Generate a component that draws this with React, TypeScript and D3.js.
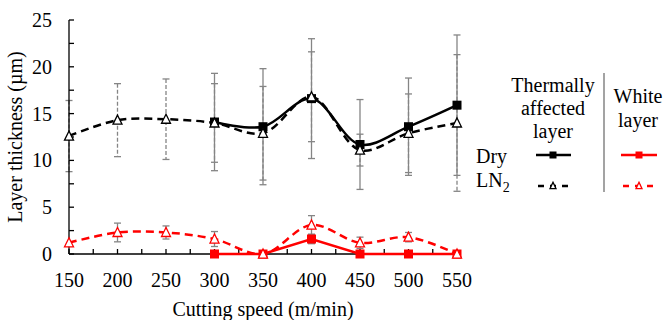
import React from "react";
import * as d3 from "d3";

const speedsAll = [150, 200, 250, 300, 350, 400, 450, 500, 550];
const speedsDry = [300, 350, 400, 450, 500, 550];

const talDry = [14.1, 13.6, 16.6, 11.7, 13.6, 15.9];
const talDryErr = [5.2, 6.2, 6.4, 4.8, 5.2, 7.5];
const talLN2 = [12.6, 14.3, 14.4, 14.0, 12.9, 16.8, 11.1, 12.9, 14.0];
const talLN2Err = [3.8, 3.9, 4.3, 4.2, 5.0, 4.8, 1.7, 4.2, 7.3];

const wlDry = [0, 0, 1.6, 0, 0, 0];
const wlDryErr = [0, 0, 0.5, 0, 0, 0];
const wlLN2 = [1.2, 2.3, 2.3, 1.6, 0, 3.1, 1.2, 1.8, 0];
const wlLN2Err = [0, 1.0, 0.7, 0.8, 0, 1.0, 0.6, 0.5, 0];

const xTicks = [150, 200, 250, 300, 350, 400, 450, 500, 550];
const yTicks = [0, 5, 10, 15, 20, 25];

const FONT = "Liberation Serif, Tinos, Times New Roman, DejaVu Serif, serif";

type Pt = { x: number; v: number; e: number };

export default function App() {
  const x = d3.scaleLinear().domain([150, 550]).range([69, 457]);
  const y = d3.scaleLinear().domain([0, 25]).range([254, 20]);

  const mk = (xs: number[], vs: number[], es: number[]): Pt[] =>
    xs.map((s, i) => ({ x: s, v: vs[i], e: es[i] }));

  const sTalDry = mk(speedsDry, talDry, talDryErr);
  const sTalLN2 = mk(speedsAll, talLN2, talLN2Err);
  const sWlDry = mk(speedsDry, wlDry, wlDryErr);
  const sWlLN2 = mk(speedsAll, wlLN2, wlLN2Err);

  const smooth = d3
    .line<Pt>()
    .x((d) => x(d.x))
    .y((d) => y(d.v))
    .curve(d3.curveCatmullRom.alpha(0.5));
  const straight = d3
    .line<Pt>()
    .x((d) => x(d.x))
    .y((d) => y(d.v));

  const gray = "#858585";
  const red = "#ff0000";

  const errBars = (pts: Pt[], dashed: boolean, key: string) =>
    pts
      .filter((p) => p.e > 0)
      .map((p, i) => {
        const cx = x(p.x);
        const y1 = y(p.v + p.e);
        const y2 = y(Math.max(0, p.v - p.e));
        return (
          <g key={key + i} stroke={gray} strokeWidth={1.3}>
            <line
              x1={cx}
              x2={cx}
              y1={y1}
              y2={y2}
              strokeDasharray={dashed ? "4,2" : undefined}
            />
            <line x1={cx - 3.5} x2={cx + 3.5} y1={y1} y2={y1} />
            <line x1={cx - 3.5} x2={cx + 3.5} y1={y2} y2={y2} />
          </g>
        );
      });

  const square = (cx: number, cy: number, s: number, fill: string, key: string) => (
    <rect key={key} x={cx - s / 2} y={cy - s / 2} width={s} height={s} fill={fill} />
  );
  const tri = (cx: number, cy: number, s: number, stroke: string, key: string) => {
    const h = s * 0.9;
    const p = `${cx},${cy - h / 2 - 1} ${cx - s / 2},${cy + h / 2} ${cx + s / 2},${cy + h / 2}`;
    return <polygon key={key} points={p} fill="#fff" stroke={stroke} strokeWidth={1.3} />;
  };

  const minorX = d3.range(150, 551, 25);
  const minorY = d3.range(0, 25.01, 2.5);
  const txt = { fontFamily: FONT, fontSize: "20px" };

  return (
    <svg
      width={668}
      height={320}
      style={{ position: "absolute", left: 0, top: 0, background: "#fff" }}
    >
      {/* error bars */}
      {errBars(sTalLN2, true, "etl")}
      {errBars(sTalDry, false, "etd")}
      {errBars(sWlLN2, false, "ewl")}
      {errBars(sWlDry, false, "ewd")}

      {/* axes */}
      <g stroke="#000" strokeWidth={1.3}>
        <line x1={69} x2={69} y1={y(25)} y2={y(0)} />
        <line x1={69} x2={x(550)} y1={y(0)} y2={y(0)} />
        {minorY.map((t) => (
          <line key={"ty" + t} x1={69} x2={74} y1={y(t)} y2={y(t)} />
        ))}
        {minorX.map((t) => (
          <line key={"tx" + t} x1={x(t)} x2={x(t)} y1={y(0)} y2={y(0) - 5} />
        ))}
      </g>

      {/* lines */}
      <path d={smooth(sTalLN2) || ""} fill="none" stroke="#000" strokeWidth={2.5} strokeDasharray="8,5" />
      <path d={smooth(sTalDry) || ""} fill="none" stroke="#000" strokeWidth={2.5} />
      <path d={straight(sWlDry) || ""} fill="none" stroke={red} strokeWidth={2.5} />
      <path d={smooth(sWlLN2) || ""} fill="none" stroke={red} strokeWidth={2.5} strokeDasharray="8,5" />

      {/* markers */}
      {sTalDry.map((p, i) => square(x(p.x), y(p.v), 9, "#000", "mtd" + i))}
      {sTalLN2.map((p, i) => tri(x(p.x), y(p.v), 9, "#000", "mtl" + i))}
      {sWlDry.map((p, i) => square(x(p.x), y(p.v), 9, red, "mwd" + i))}
      {sWlLN2.map((p, i) => tri(x(p.x), y(p.v), 9, red, "mwl" + i))}

      {/* tick labels */}
      <g style={txt} fill="#000">
        {yTicks.map((t) => (
          <text key={"ly" + t} x={52} y={y(t)} dy="0.35em" textAnchor="end">
            {t}
          </text>
        ))}
        {xTicks.map((t) => (
          <text key={"lx" + t} x={x(t)} y={287} textAnchor="middle">
            {t}
          </text>
        ))}
        <text x={263} y={316} textAnchor="middle">
          Cutting speed (m/min)
        </text>
        <text transform={`translate(22,${137}) rotate(-90)`} textAnchor="middle">
          Layer thickness (µm)
        </text>
      </g>

      {/* legend */}
      <g style={txt} fill="#000">
        <text x={553} y={92} textAnchor="middle">Thermally</text>
        <text x={553} y={115} textAnchor="middle">affected</text>
        <text x={553} y={138} textAnchor="middle">layer</text>
        <text x={638} y={103} textAnchor="middle">White</text>
        <text x={638} y={127} textAnchor="middle">layer</text>
        <text x={476} y={163}>Dry</text>
        <text x={476} y={187}>
          LN<tspan style={{ fontSize: "14px" }} dy={5}>2</tspan>
        </text>
      </g>
      <line x1={604} x2={604} y1={73} y2={192} stroke={gray} strokeWidth={1.5} />
      <line x1={536} x2={571} y1={155} y2={155} stroke="#000" strokeWidth={2.5} />
      {square(553, 155, 7, "#000", "lg1")}
      <line x1={536} x2={571} y1={186} y2={186} stroke="#000" strokeWidth={2.5} strokeDasharray="6,6" strokeDashoffset={-2} />
      {tri(553, 186, 6, "#000", "lg2")}
      <line x1={621} x2={657} y1={155} y2={155} stroke={red} strokeWidth={2.5} />
      {square(639, 155, 7, red, "lg3")}
      <line x1={621} x2={657} y1={186} y2={186} stroke={red} strokeWidth={2.5} strokeDasharray="6,6" strokeDashoffset={-2} />
      {tri(639, 186, 6, red, "lg4")}
    </svg>
  );
}
